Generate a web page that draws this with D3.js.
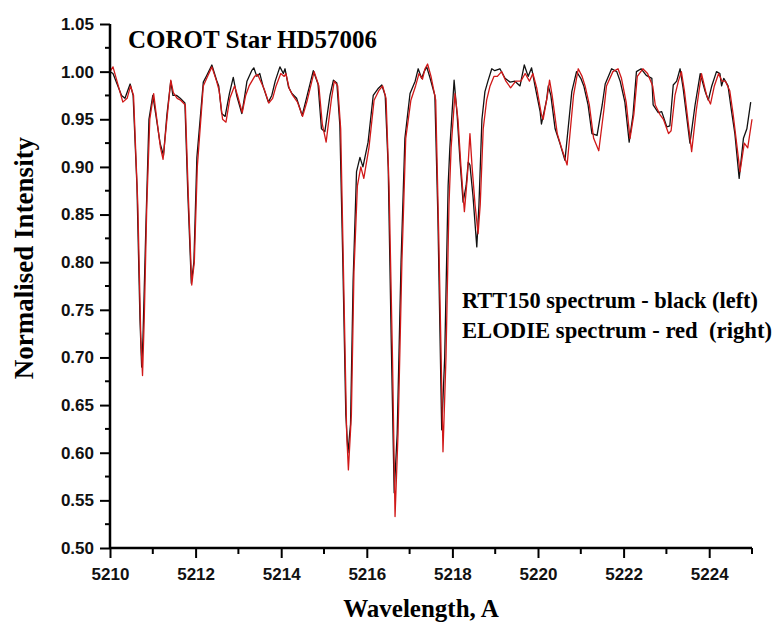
<!DOCTYPE html>
<html><head><meta charset="utf-8">
<script src="https://cdn.jsdelivr.net/npm/d3@7/dist/d3.min.js"></script>
<style>
html,body{margin:0;padding:0;background:#fff;}
svg{display:block;}
</style></head>
<body>
<script>
const title = "COROT Star HD57006";
const xLabel = "Wavelength, A";
const yLabel = "Normalised Intensity";
const legendLines = ["RTT150 spectrum - black (left)", "ELODIE spectrum - red  (right)"];
const xTicks = [5210,5212,5214,5216,5218,5220,5222,5224];
const yTicks = [0.50,0.55,0.60,0.65,0.70,0.75,0.80,0.85,0.90,0.95,1.00,1.05];

const rttWave = [5210.00,5210.07,5210.27,5210.35,5210.47,5210.54,5210.63,5210.70,5210.74,5210.77,5210.84,5210.91,5211.00,5211.07,5211.17,5211.25,5211.33,5211.42,5211.47,5211.56,5211.64,5211.75,5211.82,5211.90,5211.96,5212.03,5212.18,5212.26,5212.38,5212.49,5212.54,5212.61,5212.69,5212.79,5212.88,5212.96,5213.08,5213.15,5213.20,5213.31,5213.36,5213.43,5213.50,5213.58,5213.70,5213.78,5213.86,5213.97,5214.05,5214.09,5214.17,5214.25,5214.36,5214.49,5214.59,5214.75,5214.86,5214.94,5215.02,5215.14,5215.22,5215.30,5215.37,5215.44,5215.51,5215.56,5215.62,5215.68,5215.76,5215.84,5215.91,5216.03,5216.15,5216.26,5216.35,5216.43,5216.50,5216.57,5216.64,5216.71,5216.80,5216.89,5217.01,5217.13,5217.20,5217.28,5217.34,5217.40,5217.48,5217.59,5217.66,5217.75,5217.82,5217.90,5217.94,5218.04,5218.11,5218.18,5218.25,5218.32,5218.37,5218.41,5218.48,5218.57,5218.62,5218.69,5218.76,5218.83,5218.92,5218.99,5219.11,5219.23,5219.35,5219.46,5219.58,5219.68,5219.77,5219.85,5219.93,5220.05,5220.08,5220.20,5220.24,5220.30,5220.40,5220.51,5220.63,5220.79,5220.90,5221.00,5221.07,5221.17,5221.26,5221.38,5221.50,5221.57,5221.72,5221.84,5221.92,5222.03,5222.13,5222.22,5222.30,5222.41,5222.53,5222.66,5222.69,5222.81,5222.89,5223.01,5223.08,5223.16,5223.24,5223.32,5223.39,5223.55,5223.67,5223.79,5223.90,5223.98,5224.06,5224.17,5224.25,5224.29,5224.34,5224.44,5224.52,5224.60,5224.70,5224.80,5224.88,5224.97];
const rttFlux = [1.000,0.998,0.975,0.972,0.987,0.975,0.88,0.74,0.69,0.72,0.84,0.95,0.975,0.955,0.925,0.912,0.955,0.990,0.975,0.975,0.972,0.967,0.87,0.778,0.80,0.91,0.989,0.996,1.007,0.991,0.985,0.956,0.953,0.977,0.994,0.975,0.956,0.975,0.99,1.001,1.004,0.995,0.998,0.984,0.968,0.975,0.990,1.005,0.998,1.003,0.984,0.977,0.972,0.954,0.972,1.001,0.987,0.940,0.937,0.975,0.991,0.988,0.944,0.80,0.64,0.60,0.63,0.78,0.895,0.910,0.900,0.926,0.975,0.982,0.986,0.975,0.90,0.72,0.558,0.62,0.80,0.93,0.977,0.990,1.003,0.993,1.000,1.005,0.993,0.975,0.85,0.624,0.70,0.88,0.92,0.991,0.955,0.905,0.863,0.880,0.905,0.902,0.87,0.816,0.86,0.95,0.979,0.99,1.003,1.001,1.003,0.993,0.989,0.990,0.985,1.007,0.995,1.004,0.985,0.958,0.945,0.970,0.985,0.975,0.940,0.925,0.907,0.979,1.000,0.993,0.985,0.965,0.935,0.933,0.965,0.987,1.003,1.000,0.990,0.968,0.926,0.955,1.000,1.003,0.996,0.993,0.965,0.957,0.958,0.942,0.943,0.986,0.990,1.003,0.983,0.925,0.965,0.998,0.980,0.970,0.985,1.000,0.998,0.985,0.993,0.985,0.959,0.935,0.888,0.930,0.940,0.968];

const elodieWave = [5210.00,5210.07,5210.30,5210.40,5210.48,5210.55,5210.65,5210.72,5210.76,5210.80,5210.86,5210.93,5211.02,5211.08,5211.18,5211.24,5211.33,5211.42,5211.48,5211.57,5211.65,5211.76,5211.83,5211.91,5211.97,5212.04,5212.18,5212.26,5212.38,5212.49,5212.55,5212.63,5212.71,5212.80,5212.91,5212.98,5213.09,5213.17,5213.25,5213.38,5213.45,5213.52,5213.60,5213.71,5213.80,5213.88,5213.99,5214.07,5214.11,5214.19,5214.27,5214.38,5214.50,5214.61,5214.77,5214.88,5214.96,5215.05,5215.17,5215.24,5215.32,5215.39,5215.46,5215.53,5215.57,5215.64,5215.70,5215.78,5215.86,5215.93,5216.05,5216.17,5216.28,5216.37,5216.45,5216.52,5216.60,5216.66,5216.73,5216.82,5216.91,5217.03,5217.14,5217.22,5217.30,5217.36,5217.42,5217.50,5217.61,5217.68,5217.78,5217.85,5217.92,5217.97,5218.06,5218.13,5218.20,5218.28,5218.35,5218.41,5218.46,5218.53,5218.60,5218.65,5218.72,5218.80,5218.88,5218.97,5219.05,5219.15,5219.25,5219.36,5219.48,5219.60,5219.70,5219.80,5219.88,5219.97,5220.08,5220.12,5220.22,5220.27,5220.33,5220.45,5220.55,5220.68,5220.83,5220.94,5221.03,5221.10,5221.20,5221.30,5221.42,5221.54,5221.60,5221.75,5221.87,5221.95,5222.06,5222.15,5222.24,5222.32,5222.45,5222.56,5222.68,5222.74,5222.85,5222.93,5223.05,5223.11,5223.20,5223.28,5223.35,5223.42,5223.59,5223.70,5223.82,5223.94,5224.03,5224.12,5224.22,5224.30,5224.38,5224.48,5224.56,5224.64,5224.72,5224.82,5224.90,5225.00];
const elodieFlux = [1.000,1.005,0.968,0.972,0.985,0.975,0.86,0.72,0.681,0.74,0.86,0.95,0.977,0.955,0.92,0.908,0.950,0.991,0.978,0.972,0.970,0.965,0.87,0.776,0.80,0.90,0.985,0.993,1.005,0.990,0.980,0.950,0.947,0.972,0.985,0.975,0.957,0.975,0.985,0.995,0.997,0.990,0.982,0.967,0.972,0.985,0.998,0.995,0.998,0.982,0.975,0.968,0.953,0.970,1.000,0.985,0.945,0.926,0.970,0.990,0.985,0.940,0.78,0.62,0.582,0.64,0.79,0.880,0.900,0.888,0.920,0.970,0.980,0.985,0.972,0.88,0.70,0.533,0.62,0.80,0.93,0.970,0.985,0.998,0.992,1.003,1.008,0.995,0.970,0.83,0.601,0.70,0.86,0.92,0.977,0.950,0.900,0.853,0.890,0.935,0.900,0.86,0.83,0.86,0.94,0.970,0.985,0.995,0.995,1.000,0.990,0.983,0.990,0.990,0.998,0.990,0.998,0.983,0.955,0.950,0.975,0.991,0.975,0.935,0.920,0.902,0.975,1.003,0.995,0.985,0.965,0.930,0.917,0.960,0.985,1.000,1.003,0.993,0.968,0.930,0.955,0.995,1.003,0.998,0.985,0.965,0.955,0.950,0.935,0.938,0.975,0.990,1.000,0.980,0.916,0.960,0.998,0.975,0.966,0.985,0.998,0.990,0.990,0.980,0.955,0.925,0.895,0.925,0.920,0.950];

const W = 779, H = 624;
const m = {left:110, right:752, top:24, bottom:548};

const svg = d3.select("body").append("svg").attr("width", W).attr("height", H);

const x = d3.scaleLinear().domain([5210, 5225]).range([m.left, m.right]);
const y = d3.scaleLinear().domain([0.50, 1.05]).range([m.bottom, m.top]);

const serif = "'Liberation Serif','Times New Roman',serif";
const sans = "'Liberation Sans',Arial,sans-serif";

// lines
const line = d3.line().x(d => x(d[0])).y(d => y(d[1]));
const rtt = rttWave.map((w,i) => [w, rttFlux[i]]);
const elo = elodieWave.map((w,i) => [w, elodieFlux[i]]);
svg.append("path").datum(rtt).attr("d", line).attr("fill","none").attr("stroke","#111").attr("stroke-width",1.3).attr("stroke-linejoin","round");
svg.append("path").datum(elo).attr("d", line).attr("fill","none").attr("stroke","#d01818").attr("stroke-width",1.3).attr("stroke-linejoin","round");

// x axis
const xMinor = d3.range(5211, 5226, 2);
const gx = svg.append("g").attr("transform", `translate(0,${m.bottom})`);
gx.call(d3.axisBottom(x).tickValues(xTicks).tickSize(10).tickPadding(10).tickFormat(d3.format("d")));
xMinor.forEach(v => gx.append("line").attr("x1", x(v)).attr("x2", x(v)).attr("y1",0).attr("y2",6).attr("stroke","#000").attr("stroke-width",2));
gx.select(".domain").attr("stroke-width",2.5).attr("d", `M${m.left},0H${m.right}`);
gx.selectAll(".tick line").attr("stroke-width",2);
gx.selectAll("text").attr("font-family", sans).attr("font-weight","bold").attr("font-size",17).attr("fill","#111");

// y axis
const yMinor = d3.range(0.525, 1.05, 0.05);
const gy = svg.append("g").attr("transform", `translate(${m.left},0)`);
gy.call(d3.axisLeft(y).tickValues(yTicks).tickSize(10).tickPadding(6).tickFormat(d3.format(".2f")));
yMinor.forEach(v => gy.append("line").attr("x1",0).attr("x2",-5).attr("y1",y(v)).attr("y2",y(v)).attr("stroke","#000").attr("stroke-width",2));
gy.select(".domain").attr("stroke-width",2.5).attr("d", `M0,${m.top}V${m.bottom}`);
gy.selectAll(".tick line").attr("stroke-width",2);
gy.selectAll("text").attr("font-family", sans).attr("font-weight","bold").attr("font-size",17).attr("fill","#111");

// labels
svg.append("text").attr("x", 421).attr("y", 617).attr("text-anchor","middle")
  .attr("font-family", serif).attr("font-weight","bold").attr("font-size",25).text(xLabel);
svg.append("text").attr("transform", `translate(33,${258}) rotate(-90)`).attr("text-anchor","middle")
  .attr("font-family", serif).attr("font-weight","bold").attr("font-size",27).text(yLabel);
svg.append("text").attr("x", 128).attr("y", 48).attr("font-family", serif).attr("font-weight","bold").attr("font-size",25).text(title);
const legendLen = [296, 310];
legendLines.forEach((t,i) => {
  svg.append("text").attr("x", 462).attr("y", 308 + i*30).attr("font-family", serif).attr("font-weight","bold")
    .attr("font-size",22.5).attr("textLength", legendLen[i]).attr("lengthAdjust","spacingAndGlyphs")
    .attr("xml:space","preserve").style("white-space","pre").text(t);
});
</script>
</body></html>
